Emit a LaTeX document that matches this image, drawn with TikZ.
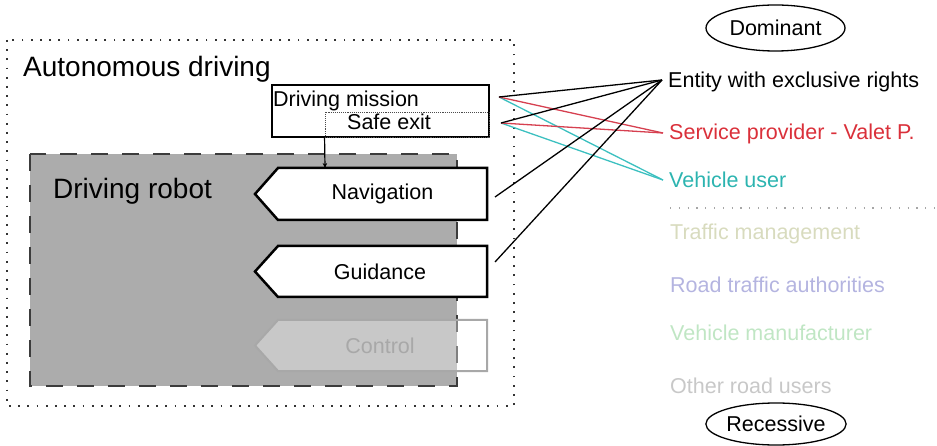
\documentclass[tikz,border=0pt]{standalone}
\usepackage{fontspec}
\setmainfont{Liberation Sans}
\usetikzlibrary{shapes.geometric,arrows.meta,calc}
\definecolor{robotgray}{RGB}{172,172,172}
\definecolor{dashgray}{RGB}{60,60,60}
\definecolor{svcred}{RGB}{218,48,58}
\definecolor{svcline}{RGB}{214,64,80}
\definecolor{usercyan}{RGB}{44,180,176}
\definecolor{userline}{RGB}{60,192,192}
\definecolor{trafcol}{RGB}{216,219,190}
\definecolor{roadcol}{RGB}{180,180,224}
\definecolor{manucol}{RGB}{192,230,196}
\definecolor{othercol}{RGB}{200,200,200}
\definecolor{ctrlgray}{RGB}{168,168,168}
\begin{document}
\begin{tikzpicture}[x=1pt,y=-1pt,
  lbl/.style={inner sep=0pt, anchor=base west, font=\fontsize{21.5}{24}\selectfont},
  ctr/.style={inner sep=0pt, font=\fontsize{21.5}{24}\selectfont},
  big/.style={inner sep=0pt, anchor=base west, font=\fontsize{28}{32}\selectfont},
  outerdots/.style={line width=1.8pt, dash pattern=on 1.8pt off 7.4pt, black!80},
  robotbox/.style={fill=robotgray, draw=dashgray, line width=2pt, dash pattern=on 17pt off 14pt},
  taskshape/.style={fill=white, draw=black, line width=2.5pt, line join=miter},
  ctrlshape/.style={fill=white, fill opacity=0.35, draw=ctrlgray, draw opacity=1, line width=2pt},
  wire/.style={line width=1.3pt},
  ell/.style={ellipse, draw, line width=1.3pt, inner sep=0pt, font=\fontsize{21.5}{24}\selectfont}]
\useasboundingbox (0,0) rectangle (937,446);

% outer dotted box
\draw[outerdots] (7,40) rectangle (514,406);
\node[big] (autotxt) at (23,77) {Autonomous driving};

% driving robot box
\draw[robotbox] (30,154) rectangle (457,386);
\node[big] (robottxt) at (53,199) {Driving robot};

% driving mission box
\node[draw, line width=1.2pt, fill=white, minimum width=217pt, minimum height=52pt, inner sep=0pt] (mission) at (380.5,111) {};
\node[draw=black!70, densely dotted, line width=0.9pt, minimum width=164pt, minimum height=25pt, inner sep=0pt] (safe) at (407,124.5) {};
\node[lbl] (missiontxt) at (273,107) {Driving mission};
\node[lbl] (safetxt) at (347,130) {Safe exit};

% task shapes
\draw[taskshape] (278,168) -- (487,168) -- (487,220) -- (278,220) -- (255,194) -- cycle;
\node[ctr] (nav) at (382.5,194) {Navigation};
\draw[taskshape] (278,246) -- (487,246) -- (487,297) -- (278,297) -- (255,271.5) -- cycle;
\node[ctr] (guid) at (380,271.5) {Guidance};
\draw[ctrlshape] (278,320) -- (487,320) -- (487,371) -- (278,371) -- (255,345.5) -- cycle;
\node[ctr, text=ctrlgray] (ctrl) at (380,345.5) {Control};

% arrow from safe exit to navigation
\coordinate (navtop) at (325,168);
\draw[line width=1.2pt, -{Stealth[length=5pt,width=4.5pt]}] (safe.south west) -- (navtop);

% right side labels
\node[ell, minimum width=139pt, minimum height=46pt] (dom) at (775.5,28) {Dominant};
\node[lbl] (ent) at (668,88) {Entity with exclusive rights};
\node[lbl, text=svcred] (svc) at (669,140) {Service provider - Valet P.};
\node[lbl, text=usercyan] (usr) at (669,188) {Vehicle user};
\draw[line width=1.2pt, gray!70, dash pattern=on 1.2pt off 7.6pt] (670,208) -- (937,208);
\node[lbl, text=trafcol] (traf) at (670,240) {Traffic management};
\node[lbl, text=roadcol] (road) at (670,293) {Road traffic authorities};
\node[lbl, text=manucol] (manu) at (670,341) {Vehicle manufacturer};
\node[lbl, text=othercol] (other) at (670,393) {Other road users};
\node[ell, minimum width=138pt, minimum height=42pt] (rec) at (776,424) {Recessive};

% connector end points
\coordinate (m1) at (499,97);
\coordinate (m2) at (501,123);
\coordinate (n1) at (495,197);
\coordinate (g1) at (495,262);
\coordinate (eE) at (662,80);
\coordinate (eS) at (663,133);
\coordinate (eV) at (663,180);

% connectors
\draw[wire, userline] (m1) -- (eV);
\draw[wire, userline] (m2) -- (eV);
\draw[wire, svcline] (m1) -- (eS);
\draw[wire, svcline] (m2) -- (eS);
\draw[wire] (m1) -- (eE);
\draw[wire] (m2) -- (eE);
\draw[wire] (n1) -- (eE);
\draw[wire] (g1) -- (eE);
\end{tikzpicture}
\end{document}
